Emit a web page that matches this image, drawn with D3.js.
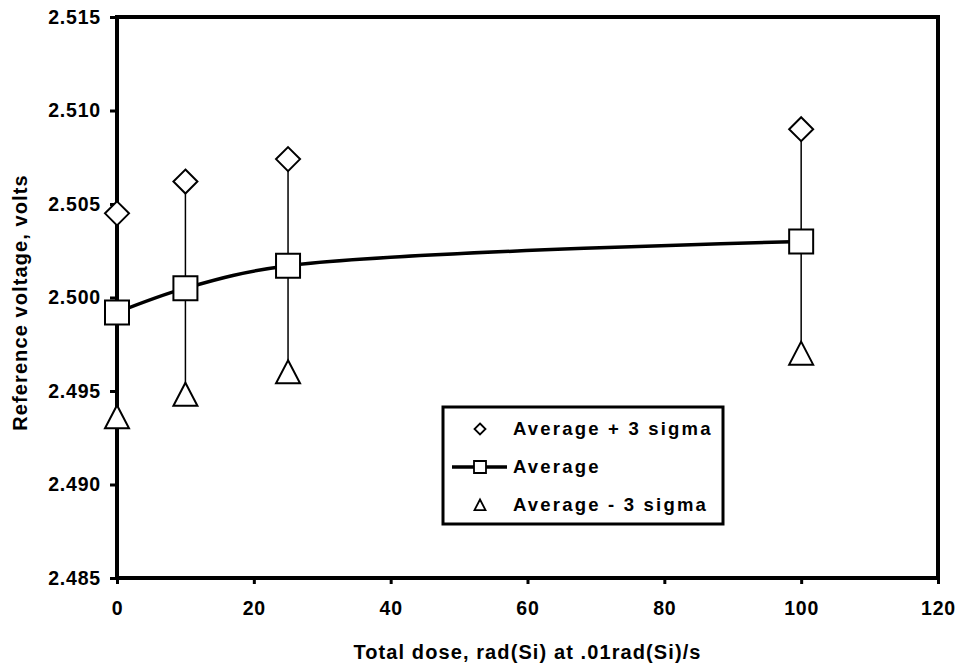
<!DOCTYPE html>
<html>
<head>
<meta charset="utf-8">
<script src="https://cdn.jsdelivr.net/npm/d3@7"></script>
<style>
  body { margin: 0; background: #fff; }
  svg text { font-family: "Liberation Sans", Arial, sans-serif; font-weight: bold; fill: #000; }
</style>
</head>
<body>
<svg id="chart" width="961" height="668"></svg>
<script>
const doses = [0, 10, 25, 100];
const avgPlus = [2.5045, 2.5062, 2.5074, 2.5090];
const avg = [2.4992, 2.5005, 2.5017, 2.5030];
const avgMinus = [2.4936, 2.4948, 2.4960, 2.4970];
const xTicks = [0, 20, 40, 60, 80, 100, 120];
const yTicks = [2.485, 2.490, 2.495, 2.500, 2.505, 2.510, 2.515];
const legendLabels = ["Average + 3 sigma", "Average", "Average - 3 sigma"];

const svg = d3.select("#chart");
const plot = { left: 117, right: 938, top: 17, bottom: 578 };

const x = d3.scaleLinear().domain([0, 120]).range([plot.left, plot.right]);
const y = d3.scaleLinear().domain([2.485, 2.515]).range([plot.bottom, plot.top]);

// axes
const xAxis = svg.append("g")
  .attr("transform", `translate(0,${plot.bottom})`)
  .call(d3.axisBottom(x).tickValues(xTicks).tickSize(6).tickPadding(17).tickFormat(d3.format("d")));
const yAxis = svg.append("g")
  .attr("transform", `translate(${plot.left},0)`)
  .call(d3.axisLeft(y).tickValues(yTicks).tickSize(7).tickPadding(9).tickFormat(d3.format(".3f")));

[xAxis, yAxis].forEach(g => {
  g.select(".domain").remove();
  g.selectAll("line").attr("stroke", "#000").attr("stroke-width", 3);
  g.selectAll("text")
    .style("font-size", "19.5px")
    .style("letter-spacing", "0.8px")
    .style("font-family", "Liberation Sans, Arial, sans-serif")
    .style("font-weight", "bold");
});

// plot frame
svg.append("rect")
  .attr("x", plot.left).attr("y", plot.top)
  .attr("width", plot.right - plot.left).attr("height", plot.bottom - plot.top)
  .attr("fill", "none").attr("stroke", "#000").attr("stroke-width", 4);

// hi-lo lines
svg.append("g").selectAll("line")
  .data(doses)
  .join("line")
  .attr("x1", d => x(d)).attr("x2", d => x(d))
  .attr("y1", (d, i) => y(avgPlus[i]))
  .attr("y2", (d, i) => y(avgMinus[i]))
  .attr("stroke", "#000").attr("stroke-width", 1.5);

// average line
const line = d3.line()
  .x((d, i) => x(doses[i]))
  .y(d => y(d))
  .curve(d3.curveCatmullRom.alpha(0.5));
svg.append("path")
  .datum(avg)
  .attr("d", line)
  .attr("fill", "none").attr("stroke", "#000").attr("stroke-width", 3.5);

const diamond = s => `M0,${-s}L${s},0L0,${s}L${-s},0Z`;
const square = s => `M${-s},${-s}H${s}V${s}H${-s}Z`;
const triangle = s => `M0,${-s}L${s},${s * 0.92}L${-s},${s * 0.92}Z`;

function markers(vals, shape, size) {
  svg.append("g").selectAll("path")
    .data(vals)
    .join("path")
    .attr("transform", (d, i) => `translate(${x(doses[i])},${y(d)})`)
    .attr("d", shape(size))
    .attr("fill", "#fff").attr("stroke", "#000").attr("stroke-width", 2);
}
markers(avgPlus, diamond, 12);
markers(avg, square, 12);
markers(avgMinus, triangle, 12);

// axis titles
svg.append("text")
  .attr("x", (plot.left + plot.right) / 2).attr("y", 659)
  .attr("text-anchor", "middle")
  .style("font-size", "20px").style("letter-spacing", "1.1px")
  .text("Total dose, rad(Si) at .01rad(Si)/s");
svg.append("text")
  .attr("transform", `translate(27,${(plot.top + plot.bottom) / 2 + 5}) rotate(-90)`)
  .attr("text-anchor", "middle")
  .style("font-size", "20px").style("letter-spacing", "1.1px")
  .text("Reference voltage, volts");

// legend
const lg = svg.append("g").attr("transform", "translate(443,407)");
lg.append("rect").attr("width", 280).attr("height", 117)
  .attr("fill", "#fff").attr("stroke", "#000").attr("stroke-width", 3);
const rowY = [22, 60, 98];
const mk = [diamond, square, triangle];
legendLabels.forEach((lab, i) => {
  if (i === 1) {
    lg.append("line").attr("x1", 9).attr("x2", 64).attr("y1", rowY[i]).attr("y2", rowY[i])
      .attr("stroke", "#000").attr("stroke-width", 3.5);
  }
  lg.append("path").attr("transform", `translate(37,${rowY[i]})`)
    .attr("d", mk[i](i === 1 ? 6 : 5.5))
    .attr("fill", "#fff").attr("stroke", "#000").attr("stroke-width", 1.8);
  lg.append("text").attr("x", 70).attr("y", rowY[i]).attr("dy", "0.35em")
    .style("font-size", "18.5px").style("letter-spacing", "2.2px")
    .text(lab);
});
</script>
</body>
</html>
